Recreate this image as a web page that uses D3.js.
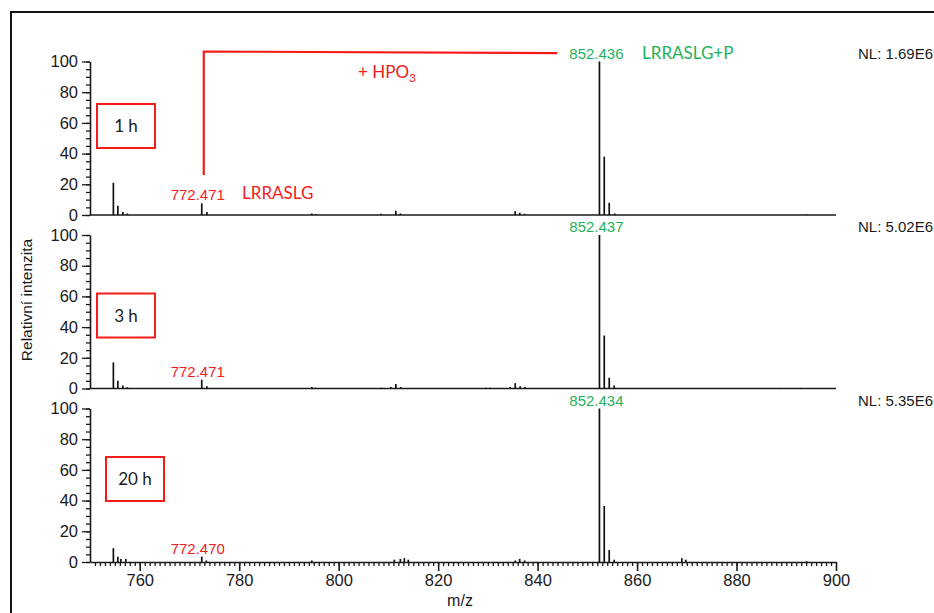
<!DOCTYPE html>
<html>
<head>
<meta charset="utf-8">
<script src="https://cdn.jsdelivr.net/npm/d3@7"></script>
<style>
  html, body { margin: 0; padding: 0; background: #fff; }
  svg { display: block; }
  .num { font-family: "Liberation Sans", Arial, sans-serif; }
  .cal { font-family: Lato, "Open Sans", sans-serif; }
</style>
</head>
<body>
<div id="chart"></div>
<script>
// m/z range and tick values
const mzDomain = [750, 900];
const mzTicks = [760, 780, 800, 820, 840, 860, 880, 900];
const intensityTicks = [0, 20, 40, 60, 80, 100];

// time points and normalisation levels
const timeLabels = ["1 h", "3 h", "20 h"];
const nlLabels = ["NL: 1.69E6", "NL: 5.02E6", "NL: 5.35E6"];

// labelled ions: unphosphorylated LRRASLG and phosphorylated LRRASLG+P
const precursorMz = ["772.471", "772.471", "772.470"];
const phosphoMz = ["852.436", "852.437", "852.434"];

// centroid peaks [m/z, relative intensity %]
const peaks1h = [
  [754.7, 21], [755.6, 6], [756.6, 2], [757.5, 1],
  [772.471, 7.6], [773.5, 2],
  [794.6, 1], [795.4, 0.6], [808.5, 0.8], [811.5, 2.8], [812.4, 1],
  [835.5, 2.5], [836.4, 1.5], [837.4, 0.8],
  [852.436, 100], [853.4, 38], [854.4, 8], [855.5, 1], [894.1, 0.5]
];
const peaks3h = [
  [754.7, 17], [755.6, 5], [756.6, 2], [757.5, 0.8],
  [772.471, 5.7], [773.5, 1.5],
  [794.6, 1], [795.4, 0.5], [808.6, 0.5], [810.5, 1], [811.5, 3], [812.5, 1],
  [829.6, 0.5], [830.4, 0.5], [832.4, 0.3], [834.5, 1], [835.5, 3.5], [836.5, 1.5], [837.5, 1],
  [852.437, 100], [853.4, 34.5], [854.4, 7], [855.4, 2], [888.7, 0.4], [892.8, 0.4]
];
const peaks20h = [
  [754.7, 9], [755.6, 3.5], [756.2, 2], [757.2, 2],
  [772.470, 3.5], [773.4, 1],
  [794.6, 1], [811.2, 1.5], [812.4, 2], [813.2, 2.5], [814.0, 1.5],
  [835.5, 1], [836.4, 2], [837.4, 1],
  [852.434, 100], [853.4, 36.5], [854.4, 7.8], [855.4, 1.5],
  [869.0, 2.5], [869.8, 1.5], [894.1, 0.5]
];
const spectra = [peaks1h, peaks3h, peaks20h];

const W = 934, H = 613;
const RED = "#f51b1b", GREEN = "#1fb25a", INK = "#1a1a1a";
const AXIS_FONT = "Liberation Sans, Arial, sans-serif";

const svg = d3.select("#chart").append("svg").attr("width", W).attr("height", H);

// outer frame
svg.append("rect").attr("x", 11).attr("y", 12).attr("width", W).attr("height", H)
  .attr("fill", "none").attr("stroke", "#111").attr("stroke-width", 2);

const x = d3.scaleLinear().domain(mzDomain).range([90, 836]);
const panelTop = 61.5, panelH = 153.5, panelStep = 173.5;

spectra.forEach((peaks, i) => {
  const top = panelTop + i * panelStep;
  const y = d3.scaleLinear().domain([0, 100]).range([top + panelH, top]);
  const g = svg.append("g");

  // minor y ticks every 5 %
  g.append("g").attr("transform", `translate(${x.range()[0]},0)`)
    .call(d3.axisLeft(y).tickValues(d3.range(0, 101, 5)).tickSize(4).tickFormat("").tickSizeOuter(0))
    .call(a => a.select(".domain").remove())
    .call(a => a.selectAll("line").attr("stroke", INK).attr("stroke-width", 1.3));

  // major y ticks and axis line
  g.append("g").attr("transform", `translate(${x.range()[0]},0)`)
    .call(d3.axisLeft(y).tickValues(intensityTicks).tickSize(8).tickSizeOuter(0))
    .call(a => a.select(".domain").attr("stroke", INK).attr("stroke-width", 1.6))
    .call(a => a.selectAll("line").attr("stroke", INK).attr("stroke-width", 1.3))
    .call(a => a.selectAll("text").attr("font-size", 16.5)
      .attr("fill", INK).attr("x", -12).attr("font-family", AXIS_FONT));

  // baseline / x axis
  if (i < spectra.length - 1) {
    g.append("line").attr("x1", x.range()[0]).attr("x2", x.range()[1])
      .attr("y1", y(0)).attr("y2", y(0)).attr("stroke", INK).attr("stroke-width", 1.6);
  } else {
    g.append("g").attr("transform", `translate(0,${y(0)})`)
      .call(d3.axisBottom(x).tickValues(d3.range(751, 900, 1)).tickSize(4).tickFormat("").tickSizeOuter(0))
      .call(a => a.select(".domain").remove())
      .call(a => a.selectAll("line").attr("stroke", INK).attr("stroke-width", 1.3));
    g.append("g").attr("transform", `translate(0,${y(0)})`)
      .call(d3.axisBottom(x).tickValues(mzTicks).tickSize(9).tickSizeOuter(0))
      .call(a => a.select(".domain").attr("stroke", INK).attr("stroke-width", 1.6))
      .call(a => a.selectAll("line").attr("stroke", INK).attr("stroke-width", 1.6))
      .call(a => a.selectAll("text").attr("font-size", 16.5).attr("fill", INK).attr("y", 12)
        .attr("font-family", AXIS_FONT));
  }

  // peaks
  g.selectAll("line.peak").data(peaks).join("line").attr("class", "peak")
    .attr("x1", d => x(d[0])).attr("x2", d => x(d[0]))
    .attr("y1", y(0)).attr("y2", d => y(d[1]))
    .attr("stroke", "#111").attr("stroke-width", 1.7);

  // peak labels
  const pre = peaks.find(d => d[0].toFixed(3) === precursorMz[i]);
  const pho = peaks.find(d => d[0].toFixed(3) === phosphoMz[i]);
  g.append("text").attr("class", "num").attr("x", x(pre[0]) - 4).attr("y", y(pre[1]) - 3)
    .attr("text-anchor", "middle").attr("font-size", 15).attr("fill", RED).text(precursorMz[i]);
  g.append("text").attr("class", "num").attr("x", x(pho[0]) - 3).attr("y", y(pho[1]) - 3)
    .attr("text-anchor", "middle").attr("font-size", 15).attr("fill", GREEN).text(phosphoMz[i]);

  // NL value
  g.append("text").attr("class", "num").attr("x", 858).attr("y", top - 3)
    .attr("font-size", 15).attr("fill", INK).text(nlLabels[i]);

  // time point box
  const bx = i === 2 ? 106 : 97, by = top + [42.5, 58.5, 48.5][i];
  g.append("rect").attr("x", bx).attr("y", by).attr("width", 58).attr("height", 44)
    .attr("fill", "none").attr("stroke", RED).attr("stroke-width", 2);
  g.append("text").attr("class", "cal").attr("x", bx + 29).attr("y", by + 28)
    .attr("text-anchor", "middle").attr("font-size", 17).attr("fill", INK).text(timeLabels[i]);
});

// phosphorylation shift annotation on the first spectrum
const yTop = d3.scaleLinear().domain([0, 100]).range([panelTop + panelH, panelTop]);
const preX = x(peaks1h.find(d => d[0] === 772.471)[0]) + 2;
const phoX = x(852.436);
svg.append("path")
  .attr("d", `M${preX},${yTop(26)} L${preX},${yTop(106.5)} L${phoX - 42},${yTop(105.5)}`)
  .attr("fill", "none").attr("stroke", RED).attr("stroke-width", 2.2);

const hpo = svg.append("text").attr("class", "cal").attr("x", 358).attr("y", 78)
  .attr("font-size", 17).attr("fill", RED);
hpo.append("tspan").text("+ HPO");
hpo.append("tspan").attr("font-size", 12).attr("dy", 4).text("3");

svg.append("text").attr("class", "cal").attr("x", 242).attr("y", 199)
  .attr("font-size", 17).attr("fill", RED).text("LRRASLG");
svg.append("text").attr("class", "cal").attr("x", 642).attr("y", 59)
  .attr("font-size", 17).attr("fill", GREEN).text("LRRASLG+P");

// axis titles
svg.append("text").attr("class", "num")
  .attr("transform", "translate(32,300) rotate(-90)")
  .attr("text-anchor", "middle").attr("font-size", 15.5).attr("fill", INK).text("Relativní intenzita");
svg.append("text").attr("class", "num").attr("x", 460).attr("y", 606)
  .attr("text-anchor", "middle").attr("font-size", 16).attr("fill", INK).text("m/z");
</script>
</body>
</html>
